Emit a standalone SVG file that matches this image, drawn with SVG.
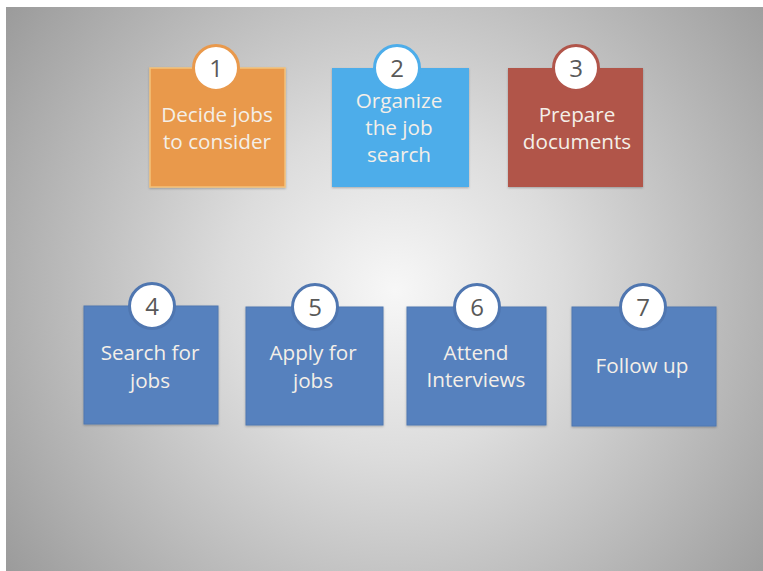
<svg xmlns="http://www.w3.org/2000/svg" width="763" height="571" viewBox="0 0 763 571">
<defs>
<radialGradient id="bg" gradientUnits="userSpaceOnUse" cx="395" cy="290" r="480">
<stop offset="0" stop-color="#f7f7f7"/>
<stop offset="0.35" stop-color="#dcdcdc"/>
<stop offset="1" stop-color="#9b9b9b"/>
</radialGradient>
<filter id="sh" x="-10%" y="-10%" width="120%" height="120%">
<feDropShadow dx="0" dy="1" stdDeviation="1.2" flood-color="#000" flood-opacity="0.25"/>
</filter>
</defs>
<style>
.lbl{font-family:"Open Sans","Noto Sans","Liberation Sans",sans-serif;font-size:20.7px;fill:#f4efe8;text-anchor:middle}
.num{font-family:"Open Sans","Noto Sans","Liberation Sans",sans-serif;font-size:24px;fill:#595959;text-anchor:middle}
.circ{fill:#ffffff;stroke-width:3}
.blue{fill:#5681be;stroke:#4f78b2;stroke-width:1}
.bc{stroke:#4f76b0}
</style>
<rect x="0" y="0" width="763" height="571" fill="#ffffff"/>
<rect x="6" y="7" width="757" height="564" fill="url(#bg)"/>
<g id="connectors"></g>
<g id="node1">
<rect x="150" y="68" width="135" height="119" fill="#e9994c" stroke="#f4c27a" stroke-width="1.5" filter="url(#sh)"/>
<circle class="circ" cx="216" cy="68" r="22.5" stroke="#e9994c"/>
<text class="num" x="216" y="77">1</text>
<text class="lbl" x="217" y="122">Decide jobs</text>
<text class="lbl" x="217" y="149">to consider</text>
</g>
<g id="node2">
<rect x="332" y="68" width="137" height="119" fill="#4dadea" filter="url(#sh)"/>
<circle class="circ" cx="397" cy="68" r="22.5" stroke="#4dadea"/>
<text class="num" x="397" y="77">2</text>
<text class="lbl" x="399" y="108">Organize</text>
<text class="lbl" x="399" y="135">the job</text>
<text class="lbl" x="399" y="162">search</text>
</g>
<g id="node3">
<rect x="508" y="68" width="135" height="119" fill="#b1554a" filter="url(#sh)"/>
<circle class="circ" cx="576" cy="68" r="22.5" stroke="#b1554a"/>
<text class="num" x="576" y="77">3</text>
<text class="lbl" x="577" y="122">Prepare</text>
<text class="lbl" x="577" y="149">documents</text>
</g>
<g id="node4">
<rect class="blue" x="84" y="306" width="134" height="118" filter="url(#sh)"/>
<circle class="circ bc" cx="152" cy="306" r="22.5"/>
<text class="num" x="152" y="315">4</text>
<text class="lbl" x="150" y="360">Search for</text>
<text class="lbl" x="150" y="388">jobs</text>
</g>
<g id="node5">
<rect class="blue" x="246" y="307" width="137" height="118" filter="url(#sh)"/>
<circle class="circ bc" cx="315" cy="307" r="22.5"/>
<text class="num" x="315" y="316">5</text>
<text class="lbl" x="313" y="360">Apply for</text>
<text class="lbl" x="313" y="388">jobs</text>
</g>
<g id="node6">
<rect class="blue" x="407" y="307" width="139" height="118" filter="url(#sh)"/>
<circle class="circ bc" cx="477" cy="307" r="22.5"/>
<text class="num" x="477" y="316">6</text>
<text class="lbl" x="476" y="360">Attend</text>
<text class="lbl" x="476" y="387">Interviews</text>
</g>
<g id="node7">
<rect class="blue" x="572" y="307" width="144" height="119" filter="url(#sh)"/>
<circle class="circ bc" cx="643" cy="307" r="22.5"/>
<text class="num" x="643" y="316">7</text>
<text class="lbl" x="642" y="373">Follow up</text>
</g>
</svg>
